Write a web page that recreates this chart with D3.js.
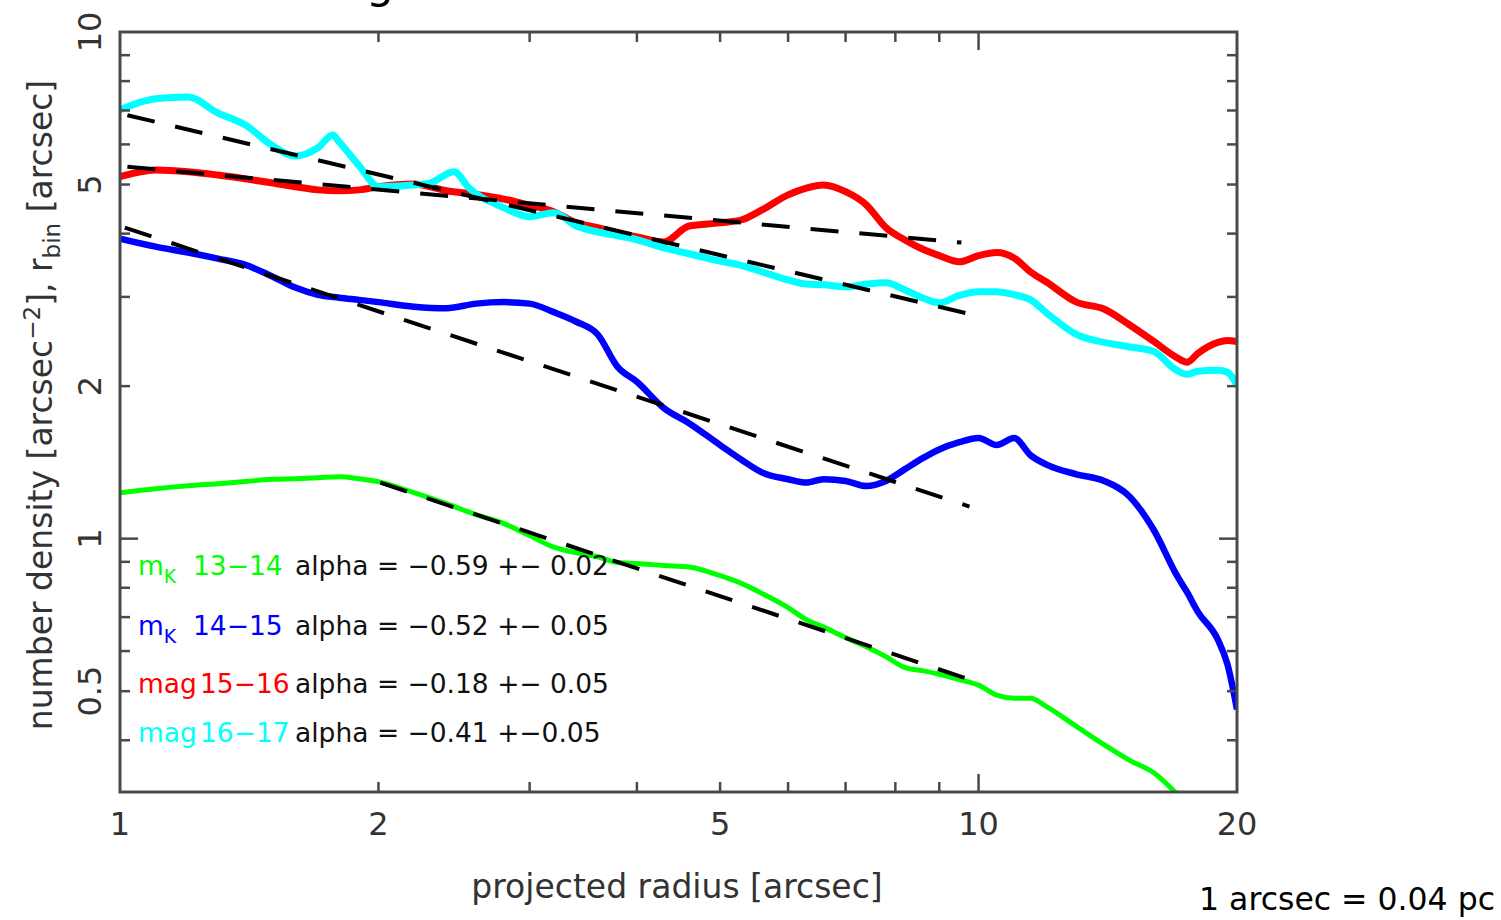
<!DOCTYPE html>
<html><head><meta charset="utf-8">
<script src="https://cdn.jsdelivr.net/npm/d3@7"></script>
<style>body{margin:0;background:#fff}svg{display:block}</style>
</head><body>
<svg id="c" width="1501" height="920"></svg>
<script>
// ---------- data ----------
const radiusCommon = [1.0,1.1,1.2,1.3,1.4,1.5,1.6,1.7,1.8,1.9,2.0,2.2,2.4,2.6,2.8,3.0,3.2,3.4,3.6,3.8,4.0,4.3,4.6,5.0,5.3,5.6,6.0,6.3,6.6,7.0,7.4,7.8,8.2,8.6,9.0,9.5,10,10.5,11,11.5,12,13,14,15,16,17,17.5,18,19,19.5,20];
const densityRed = [5.18,5.34,5.30,5.22,5.13,5.04,4.95,4.88,4.86,4.88,4.95,5.01,4.86,4.78,4.68,4.55,4.42,4.20,4.11,4.01,3.94,3.85,4.14,4.20,4.26,4.46,4.77,4.92,4.99,4.84,4.56,4.11,3.89,3.73,3.62,3.52,3.62,3.67,3.58,3.36,3.21,2.93,2.84,2.64,2.45,2.28,2.23,2.32,2.44,2.46,2.45];
const densityBlue = [3.91,3.77,3.67,3.57,3.47,3.30,3.13,3.03,2.99,2.96,2.93,2.87,2.85,2.91,2.93,2.91,2.80,2.68,2.53,2.18,2.04,1.81,1.69,1.53,1.43,1.35,1.31,1.29,1.31,1.30,1.27,1.30,1.37,1.44,1.50,1.55,1.58,1.53,1.58,1.46,1.40,1.34,1.30,1.21,1.04,0.849,0.783,0.718,0.632,0.564,0.460];
const radiusGreen = [1.0,1.1,1.2,1.3,1.4,1.5,1.6,1.7,1.8,1.9,2.0,2.2,2.4,2.6,2.8,3.0,3.2,3.4,3.6,3.8,4.0,4.3,4.6,5.0,5.3,5.6,6.0,6.3,6.6,7.0,7.4,7.8,8.2,8.6,9.0,9.5,10,10.5,11,11.5,12,13,14,15,16,17];
const densityGreen = [1.232,1.255,1.272,1.284,1.296,1.31,1.313,1.319,1.325,1.313,1.296,1.232,1.172,1.115,1.071,1.014,0.962,0.938,0.921,0.897,0.893,0.885,0.879,0.845,0.815,0.779,0.731,0.692,0.669,0.638,0.612,0.585,0.557,0.549,0.540,0.527,0.514,0.491,0.484,0.484,0.466,0.426,0.392,0.365,0.345,0.314];
const radiusCyan = [1.0,1.1,1.2,1.3,1.4,1.5,1.6,1.7,1.77,1.8,1.9,2.0,2.2,2.3,2.45,2.55,2.8,3.0,3.2,3.4,3.6,3.8,4.0,4.3,4.6,5.0,5.3,5.6,6.0,6.3,6.6,7.0,7.4,7.8,8.2,8.6,9.0,9.5,10,10.5,11,11.5,12,13,14,15,16,17,17.5,18,19,19.5,20];
const densityCyan = [7.02,7.38,7.44,6.92,6.55,5.99,5.69,5.91,6.26,6.07,5.44,4.95,4.99,5.04,5.30,4.92,4.50,4.32,4.40,4.14,4.03,3.96,3.89,3.75,3.65,3.53,3.46,3.36,3.24,3.18,3.17,3.14,3.18,3.20,3.10,2.99,2.92,3.02,3.07,3.07,3.03,2.96,2.79,2.53,2.44,2.39,2.34,2.15,2.11,2.14,2.15,2.13,2.01];

// power-law fits (dashed), end points
const fitGreenR = [2.01, 10.0],  fitGreenV = [1.29, 0.52];
const fitBlueR  = [1.013, 9.76], fitBlueV  = [4.11, 1.157];
const fitRedR   = [1.02, 9.55],  fitRedV   = [5.42, 3.84];
const fitCyanR  = [1.02, 10.0],  fitCyanV  = [6.85, 2.75];

// legend
const legendPrefix = ["m", "m", "mag", "mag"];
const legendSub    = ["K", "K", "", ""];
const legendRange  = ["13\u221214", "14\u221215", "15\u221216", "16\u221217"];
const legendFit    = ["alpha = \u22120.59 +\u2212 0.02", "alpha = \u22120.52 +\u2212 0.05", "alpha = \u22120.18 +\u2212 0.05", "alpha = \u22120.41 +\u22120.05"];

// axes
const xDomain = [1, 20];
const yDomain = [0.3162, 10];
const xTickLabels = [1, 2, 5, 10, 20];
const yTickLabels = [0.5, 1, 2, 5, 10];
const xTicks = [2,3,4,5,6,7,8,9,10];
const yTicks = [0.4,0.5,0.6,0.7,0.8,0.9,1,2,3,4,5,6,7,8,9];
const xTitle = "projected radius [arcsec]";
const note = "1 arcsec = 0.04 pc";

// ---------- drawing ----------
const svg = d3.select("#c");
const L = 120, R = 1237, T = 32, B = 792;
const x = d3.scaleLog().domain(xDomain).range([L, R]);
const y = d3.scaleLog().domain(yDomain).range([B, T]);
const FONT = "DejaVu Sans, Verdana, sans-serif";
const INK = "#333";

svg.append("defs").append("clipPath").attr("id","plot")
  .append("rect").attr("x",L).attr("y",T).attr("width",R-L).attr("height",B-T);

const zip = (rs, vs) => rs.map((r,i)=>[r, vs[i]]);
const line = d3.line().x(d=>x(d[0])).y(d=>y(d[1])).curve(d3.curveMonotoneX);
const lineStraight = d3.line().x(d=>x(d[0])).y(d=>y(d[1]));

const gData = svg.append("g").attr("clip-path","url(#plot)");
const series = [
  {r: radiusGreen, v: densityGreen, c: "#00ff00", w: 5},
  {r: radiusCommon, v: densityBlue, c: "#0000ff", w: 6.5},
  {r: radiusCommon, v: densityRed, c: "#ff0000", w: 7},
  {r: radiusCyan, v: densityCyan, c: "#00ffff", w: 7}
];
series.forEach(s=>{
  gData.append("path").attr("d", line(zip(s.r, s.v)))
    .attr("fill","none").attr("stroke", s.c).attr("stroke-width", s.w)
    .attr("stroke-linejoin","round").attr("stroke-linecap","butt");
});
[[fitGreenR,fitGreenV],[fitBlueR,fitBlueV],[fitRedR,fitRedV],[fitCyanR,fitCyanV]].forEach(f=>{
  gData.append("path").attr("d", lineStraight(zip(f[0], f[1])))
    .attr("fill","none").attr("stroke","#000").attr("stroke-width",4)
    .attr("stroke-dasharray","28,21");
});

// frame and ticks
const axG = svg.append("g").attr("stroke","#4a4a4a").attr("stroke-width",2.5);
axG.append("rect").attr("x",L).attr("y",T).attr("width",R-L).attr("height",B-T)
  .attr("fill","none").attr("stroke-width",3);
const isMajor = v => Math.abs(Math.log10(v) - Math.round(Math.log10(v))) < 1e-9;
xTicks.forEach(v=>{
  const len = isMajor(v) ? 18 : 10, px = x(v);
  axG.append("line").attr("x1",px).attr("x2",px).attr("y1",B).attr("y2",B-len);
  axG.append("line").attr("x1",px).attr("x2",px).attr("y1",T).attr("y2",T+len);
});
yTicks.forEach(v=>{
  const len = isMajor(v) ? 18 : 10, py = y(v);
  axG.append("line").attr("x1",L).attr("x2",L+len).attr("y1",py).attr("y2",py);
  axG.append("line").attr("x1",R).attr("x2",R-len).attr("y1",py).attr("y2",py);
});

// tick labels
xTickLabels.forEach(v=>{
  svg.append("text").attr("x", x(v)).attr("y", 835).attr("text-anchor","middle")
    .attr("font-family",FONT).attr("font-size",32).attr("fill",INK).text(v);
});
yTickLabels.forEach(v=>{
  svg.append("text").attr("transform",`translate(101,${y(v)}) rotate(-90)`)
    .attr("text-anchor","middle").attr("font-family",FONT).attr("font-size",32)
    .attr("fill",INK).text(v);
});

// axis titles
svg.append("text").attr("x",677).attr("y",898).attr("text-anchor","middle")
  .attr("font-family",FONT).attr("font-size",33).attr("fill",INK).text(xTitle);
const yt = svg.append("text").attr("transform","translate(52,405) rotate(-90)")
  .attr("text-anchor","middle").attr("font-family",FONT).attr("font-size",33).attr("fill",INK);
yt.append("tspan").text("number density [arcsec");
yt.append("tspan").attr("dy",-12).attr("font-size",23).text("\u22122");
yt.append("tspan").attr("dy",12).text("], r");
yt.append("tspan").attr("dy",8).attr("font-size",23).text("bin");
yt.append("tspan").attr("dy",-8).text(" [arcsec]");

// legend
const legColors = ["#00ff00","#0000ff","#ff0000","#00ffff"];
const rowBase = [575, 635, 693, 742];
const rangeX = [193, 193, 200, 200];
legendPrefix.forEach((p,i)=>{
  const t = svg.append("text").attr("x",138).attr("y",rowBase[i])
    .attr("font-family",FONT).attr("font-size",26.5).attr("fill",legColors[i]);
  t.append("tspan").text(p);
  if (legendSub[i]) t.append("tspan").attr("dy",8).attr("font-size",19).text(legendSub[i]);
  svg.append("text").attr("x",rangeX[i]).attr("y",rowBase[i])
    .attr("font-family",FONT).attr("font-size",26.5).attr("fill",legColors[i]).text(legendRange[i]);
  svg.append("text").attr("x",295).attr("y",rowBase[i])
    .attr("font-family",FONT).attr("font-size",26.5).attr("fill","#111").text(legendFit[i]);
});

// partially visible title glyph at the top edge and the scale note
svg.append("text").attr("x",366).attr("y",-2).attr("font-family",FONT)
  .attr("font-size",44).attr("fill","#000").text("g");
svg.append("text").attr("x",1495).attr("y",910).attr("text-anchor","end")
  .attr("font-family",FONT).attr("font-size",31.5).attr("fill","#000").text(note);
</script>
</body></html>
